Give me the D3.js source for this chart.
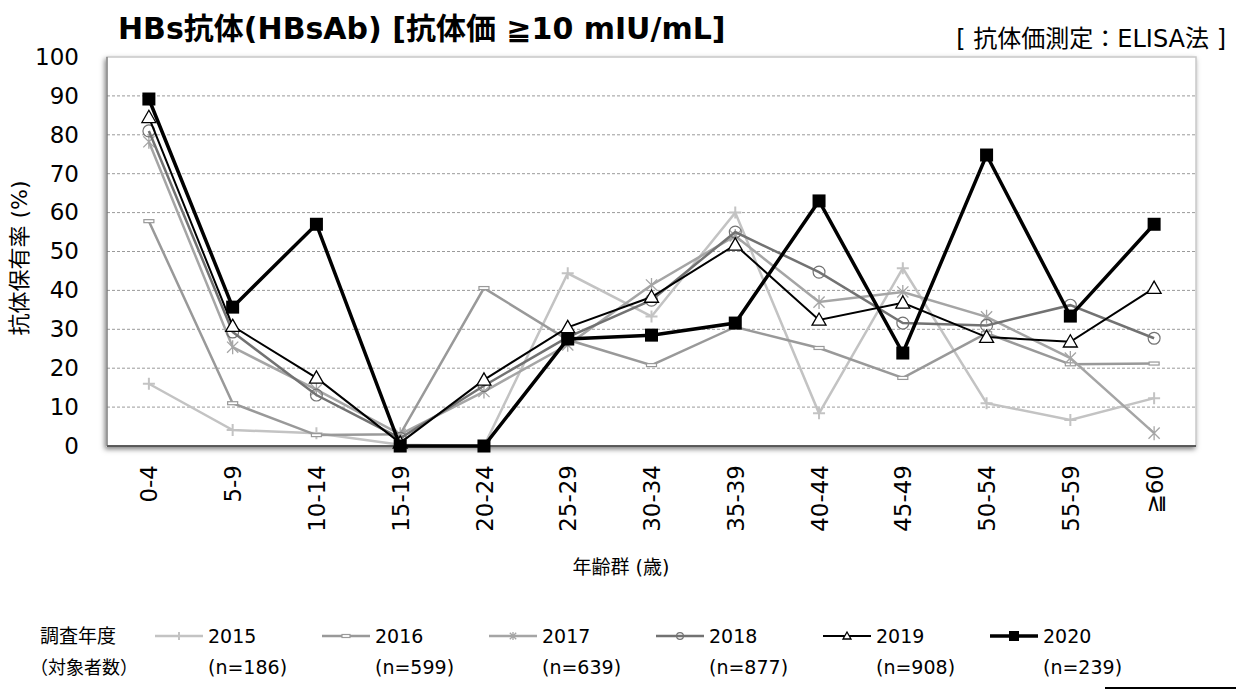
<!DOCTYPE html>
<html>
<head>
<meta charset="utf-8">
<script src="https://cdn.jsdelivr.net/npm/d3@7"></script>
<style>
  body { margin: 0; background: #fff; }
  text { font-family: "DejaVu Sans", Verdana, "Noto Sans CJK JP", sans-serif; }
</style>
</head>
<body>
<script>
var w = 1236;
var h = 690;

// age groups and antibody rates (%) per survey year
var ageGroups = ["0-4","5-9","10-14","15-19","20-24","25-29","30-34","35-39","40-44","45-49","50-54","55-59","≧60"];
var years = ["2015","2016","2017","2018","2019","2020"];
var counts = ["(n=186)","(n=599)","(n=639)","(n=877)","(n=908)","(n=239)"];
var v2015 = [16, 4.1, 3.3, 0.3, 0, 44.4, 33.3, 60, 8.4, 45.7, 11, 6.7, 12.3];
var v2016 = [57.8, 11, 2.8, 3, 40.6, 27.3, 20.8, 30.6, 25.2, 17.5, 29, 21, 21.2];
var v2017 = [78.2, 25.4, 14.5, 3, 14, 26, 41.4, 54, 37, 39.6, 33.2, 22.6, 3.3];
var v2018 = [81, 29.3, 13.1, 2, 15.5, 28, 37.5, 55, 44.7, 31.6, 31, 36.2, 27.7];
var v2019 = [84.5, 30.8, 17.5, 0.8, 17, 30.5, 38.3, 51.7, 32.4, 36.8, 28, 26.8, 40.6];
var v2020 = [89.2, 35.7, 57, 0, 0, 27.5, 28.5, 31.6, 63, 23.9, 74.8, 33.4, 57];
var yTicks = [0,10,20,30,40,50,60,70,80,90,100];

var series = [
  {year: years[0], n: counts[0], values: v2015, color: "#c3c3c3", width: 2.5, mark: "plus"},
  {year: years[1], n: counts[1], values: v2016, color: "#999", width: 2.5, mark: "dash"},
  {year: years[2], n: counts[2], values: v2017, color: "#a5a5a5", width: 2.5, mark: "star"},
  {year: years[3], n: counts[3], values: v2018, color: "#727272", width: 2.5, mark: "circle"},
  {year: years[4], n: counts[4], values: v2019, color: "#000", width: 2, mark: "tri"},
  {year: years[5], n: counts[5], values: v2020, color: "#000", width: 3.5, mark: "square"}
];

var plot = {left: 107, right: 1196, top: 57, bottom: 446};

var svg = d3.select("body").append("svg").attr("width", w).attr("height", h);

var defs = svg.append("defs");
var flt = defs.append("filter").attr("id", "shadow")
  .attr("x", "-5%").attr("y", "-5%").attr("width", "110%").attr("height", "115%");
flt.append("feDropShadow").attr("dx", -1.5).attr("dy", 2.5).attr("stdDeviation", 2.5)
  .attr("flood-color", "#000").attr("flood-opacity", 0.5);

var x = d3.scalePoint().domain(ageGroups).range([plot.left, plot.right]).padding(0.5);
var y = d3.scaleLinear().domain([0, 100]).range([plot.bottom, plot.top]);

// plot frame
svg.append("rect")
  .attr("x", plot.left).attr("y", plot.top)
  .attr("width", plot.right - plot.left).attr("height", plot.bottom - plot.top)
  .attr("fill", "#fff").attr("stroke", "#c8c8c8").attr("stroke-width", 1.5)
  .attr("filter", "url(#shadow)");

// grid
svg.append("g").selectAll("line").data(yTicks.filter(function(d){ return d > 0 && d < 100; }))
  .enter().append("line")
  .attr("x1", plot.left).attr("x2", plot.right)
  .attr("y1", function(d){ return y(d); }).attr("y2", function(d){ return y(d); })
  .attr("stroke", "#9a9a9a").attr("stroke-width", 1).attr("stroke-dasharray", "3,2");

// bottom and left frame lines
svg.append("line").attr("x1", plot.left).attr("x2", plot.right)
  .attr("y1", plot.bottom).attr("y2", plot.bottom)
  .attr("stroke", "#333").attr("stroke-width", 1.5);
svg.append("line").attr("x1", plot.left).attr("x2", plot.left)
  .attr("y1", plot.top).attr("y2", plot.bottom)
  .attr("stroke", "#666").attr("stroke-width", 1);

// y axis
var yAxis = svg.append("g").attr("transform", "translate(" + plot.left + ",0)")
  .call(d3.axisLeft(y).tickValues(yTicks).tickSize(0).tickPadding(28));
yAxis.select(".domain").remove();
yAxis.selectAll("text").attr("font-size", 23).attr("fill", "#000")
  .style("font-family", "DejaVu Sans, Verdana, sans-serif");

// x axis
var xAxis = svg.append("g").attr("transform", "translate(0," + plot.bottom + ")")
  .call(d3.axisBottom(x).tickSize(0));
xAxis.select(".domain").remove();
xAxis.selectAll("text")
  .attr("font-size", 23).attr("fill", "#000")
  .attr("transform", "rotate(-90)")
  .attr("x", -19).attr("y", 0).attr("dy", "0.35em")
  .attr("text-anchor", "end")
  .style("font-family", "DejaVu Sans, Verdana, sans-serif");

// markers
function drawMark(g, type, cx, cy, s, color) {
  if (type === "plus") {
    g.append("path").attr("d", "M" + (cx - s) + "," + cy + "H" + (cx + s) + "M" + cx + "," + (cy - s) + "V" + (cy + s))
      .attr("stroke", color).attr("stroke-width", 2).attr("fill", "none");
  } else if (type === "dash") {
    g.append("rect").attr("x", cx - s).attr("y", cy - 1.5).attr("width", 2 * s).attr("height", 3)
      .attr("fill", "#fff").attr("stroke", color).attr("stroke-width", 1.2);
  } else if (type === "star") {
    var k = s * 0.8;
    g.append("path").attr("d", "M" + (cx - k) + "," + (cy - k) + "L" + (cx + k) + "," + (cy + k) +
        "M" + (cx - k) + "," + (cy + k) + "L" + (cx + k) + "," + (cy - k) +
        "M" + cx + "," + (cy - s) + "V" + (cy + s))
      .attr("stroke", color).attr("stroke-width", 1.3).attr("fill", "none");
  } else if (type === "circle") {
    g.append("circle").attr("cx", cx).attr("cy", cy).attr("r", s * 0.85)
      .attr("fill", "none").attr("stroke", color).attr("stroke-width", 1.2);
  } else if (type === "tri") {
    g.append("path").attr("d", "M" + cx + "," + (cy - s) + "L" + (cx + s) + "," + (cy + s * 0.75) + "L" + (cx - s) + "," + (cy + s * 0.75) + "Z")
      .attr("fill", "#fff").attr("stroke", color).attr("stroke-width", 1.3);
  } else if (type === "square") {
    g.append("rect").attr("x", cx - s).attr("y", cy - s).attr("width", 2 * s).attr("height", 2 * s)
      .attr("fill", color);
  }
}

var markSize = {plus: 6, dash: 5, star: 7, circle: 7, tri: 7, square: 6.5};

var line = d3.line()
  .x(function(d, i){ return x(ageGroups[i]); })
  .y(function(d){ return y(d); });

series.forEach(function(s){
  var g = svg.append("g");
  g.append("path").datum(s.values).attr("d", line)
    .attr("fill", "none").attr("stroke", s.color).attr("stroke-width", s.width)
    .attr("stroke-linejoin", "miter");
  s.values.forEach(function(v, i){
    drawMark(g, s.mark, x(ageGroups[i]), y(v), markSize[s.mark], s.color);
  });
});

// title
svg.append("text").attr("x", 118).attr("y", 39)
  .attr("font-size", 30).attr("font-weight", "bold")
  .text("HBs抗体(HBsAb) [抗体価 ≧10 mIU/mL]");
svg.append("text").attr("x", 1226).attr("y", 47).attr("text-anchor", "end")
  .attr("font-size", 24)
  .text("[ 抗体価測定：ELISA法 ]");

// axis titles
svg.append("text")
  .attr("transform", "translate(27,258) rotate(-90)")
  .attr("text-anchor", "middle").attr("font-size", 22)
  .text("抗体保有率 (%)");
svg.append("text").attr("x", 621).attr("y", 574).attr("text-anchor", "middle")
  .attr("font-size", 19)
  .text("年齢群 (歳)");

// legend
var legend = svg.append("g");
legend.append("text").attr("x", 40).attr("y", 643).attr("font-size", 19).text("調査年度");
legend.append("text").attr("x", 30).attr("y", 674).attr("font-size", 18).text("（対象者数）");
series.forEach(function(s, i){
  var lx = 155 + i * 167;
  var ly = 636;
  legend.append("line").attr("x1", lx).attr("x2", lx + 48).attr("y1", ly).attr("y2", ly)
    .attr("stroke", s.color).attr("stroke-width", s.width);
  var ms = {plus: 4, dash: 4, star: 4, circle: 4, tri: 4, square: 5}[s.mark];
  drawMark(legend, s.mark, lx + 24, ly, ms, s.color);
  legend.append("text").attr("x", lx + 53).attr("y", ly + 7).attr("font-size", 19).text(s.year);
  legend.append("text").attr("x", lx + 53).attr("y", 674).attr("font-size", 19).text(s.n);
});

// short rule at bottom right
svg.append("line").attr("x1", 1105).attr("x2", 1236).attr("y1", 688).attr("y2", 688)
  .attr("stroke", "#000").attr("stroke-width", 2);
</script>
</body>
</html>
